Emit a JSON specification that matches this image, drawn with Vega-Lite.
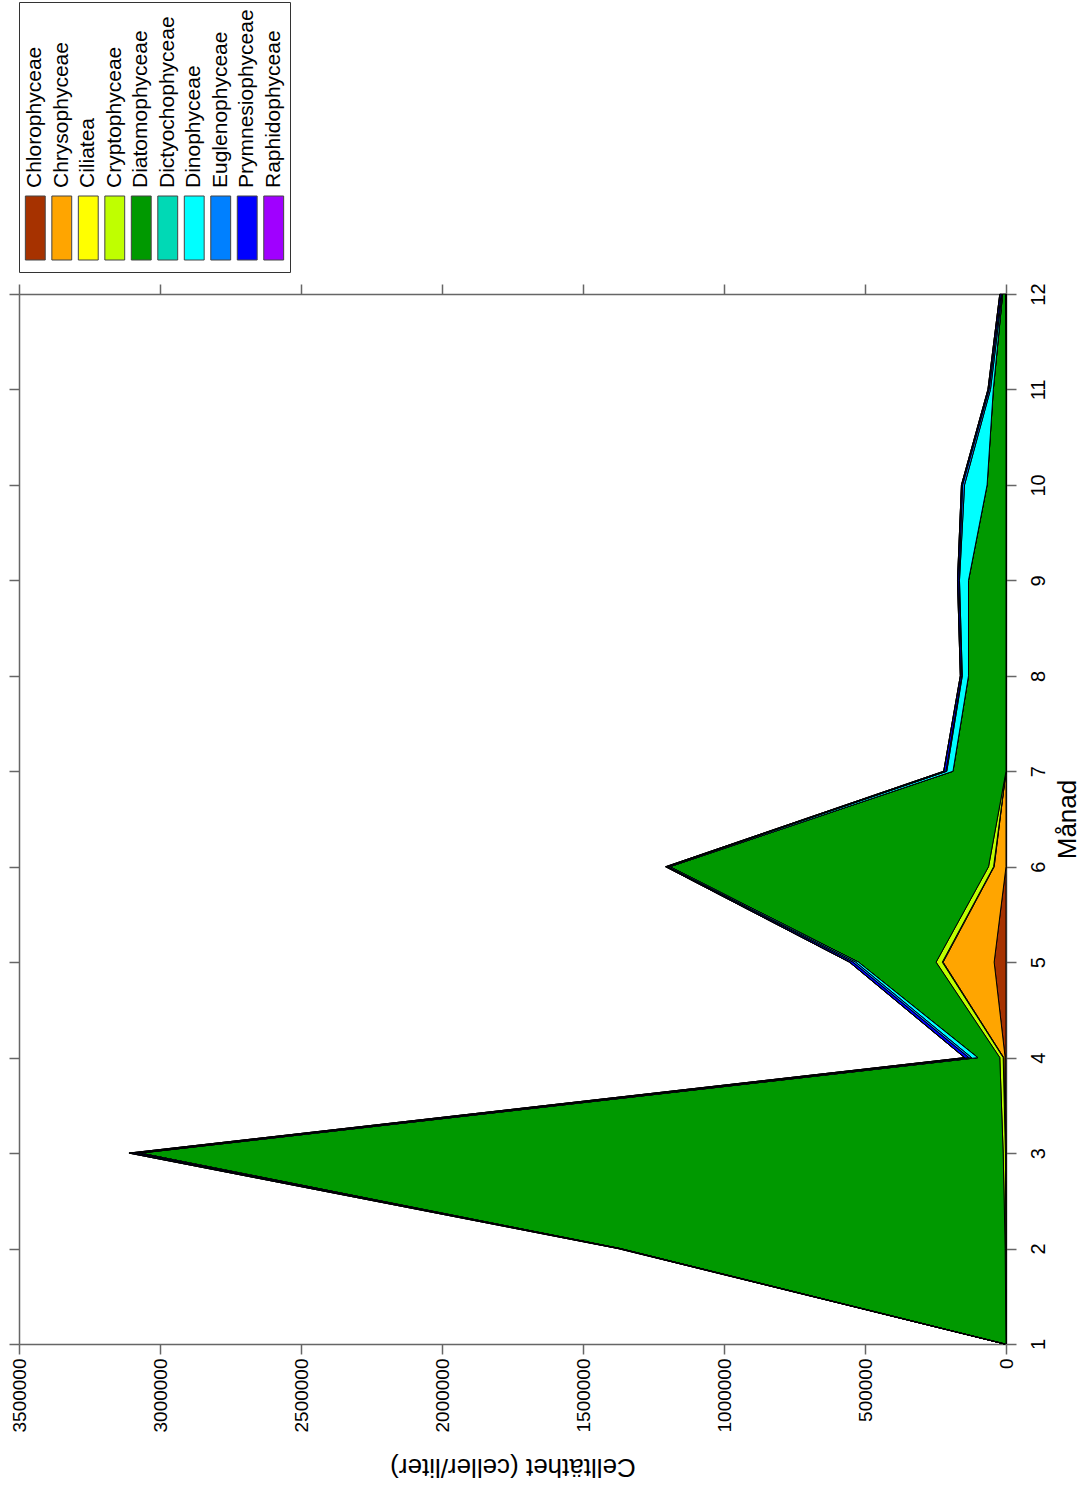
{
  "$schema": "https://vega.github.io/schema/vega-lite/v6.json",
  "padding": {"left": 8, "top": 1, "right": 5, "bottom": 5},
  "background": "white",
  "spacing": 9,
  "config": {
    "font": "Liberation Sans",
    "axis": {"domainColor": "#666", "domainWidth": 1.5, "tickColor": "#666", "tickWidth": 1.5, "labelColor": "#000", "titleColor": "#000", "titleFontWeight": "normal", "grid": false}
  },
  "datasets": {
    "cells": [
      {"m":1,"c":"Chlorophyceae","v":0},{"m":1,"c":"Chrysophyceae","v":0},{"m":1,"c":"Ciliatea","v":0},{"m":1,"c":"Cryptophyceae","v":0},{"m":1,"c":"Diatomophyceae","v":4000},{"m":1,"c":"Dictyochophyceae","v":0},{"m":1,"c":"Dinophyceae","v":0},{"m":1,"c":"Euglenophyceae","v":0},{"m":1,"c":"Prymnesiophyceae","v":1000},{"m":1,"c":"Raphidophyceae","v":0},
      {"m":2,"c":"Chlorophyceae","v":0},{"m":2,"c":"Chrysophyceae","v":1000},{"m":2,"c":"Ciliatea","v":0},{"m":2,"c":"Cryptophyceae","v":2000},{"m":2,"c":"Diatomophyceae","v":1365000},{"m":2,"c":"Dictyochophyceae","v":0},{"m":2,"c":"Dinophyceae","v":2000},{"m":2,"c":"Euglenophyceae","v":1000},{"m":2,"c":"Prymnesiophyceae","v":5000},{"m":2,"c":"Raphidophyceae","v":0},
      {"m":3,"c":"Chlorophyceae","v":0},{"m":3,"c":"Chrysophyceae","v":2000},{"m":3,"c":"Ciliatea","v":0},{"m":3,"c":"Cryptophyceae","v":8000},{"m":3,"c":"Diatomophyceae","v":3060000},{"m":3,"c":"Dictyochophyceae","v":0},{"m":3,"c":"Dinophyceae","v":12000},{"m":3,"c":"Euglenophyceae","v":8000},{"m":3,"c":"Prymnesiophyceae","v":20000},{"m":3,"c":"Raphidophyceae","v":0},
      {"m":4,"c":"Chlorophyceae","v":3000},{"m":4,"c":"Chrysophyceae","v":5000},{"m":4,"c":"Ciliatea","v":2000},{"m":4,"c":"Cryptophyceae","v":12000},{"m":4,"c":"Diatomophyceae","v":78000},{"m":4,"c":"Dictyochophyceae","v":0},{"m":4,"c":"Dinophyceae","v":22000},{"m":4,"c":"Euglenophyceae","v":10000},{"m":4,"c":"Prymnesiophyceae","v":15000},{"m":4,"c":"Raphidophyceae","v":0},
      {"m":5,"c":"Chlorophyceae","v":42000},{"m":5,"c":"Chrysophyceae","v":181000},{"m":5,"c":"Ciliatea","v":3000},{"m":5,"c":"Cryptophyceae","v":22000},{"m":5,"c":"Diatomophyceae","v":275000},{"m":5,"c":"Dictyochophyceae","v":0},{"m":5,"c":"Dinophyceae","v":10000},{"m":5,"c":"Euglenophyceae","v":10000},{"m":5,"c":"Prymnesiophyceae","v":12000},{"m":5,"c":"Raphidophyceae","v":0},
      {"m":6,"c":"Chlorophyceae","v":0},{"m":6,"c":"Chrysophyceae","v":42000},{"m":6,"c":"Ciliatea","v":2000},{"m":6,"c":"Cryptophyceae","v":18000},{"m":6,"c":"Diatomophyceae","v":1130000},{"m":6,"c":"Dictyochophyceae","v":0},{"m":6,"c":"Dinophyceae","v":7000},{"m":6,"c":"Euglenophyceae","v":3000},{"m":6,"c":"Prymnesiophyceae","v":5000},{"m":6,"c":"Raphidophyceae","v":0},
      {"m":7,"c":"Chlorophyceae","v":0},{"m":7,"c":"Chrysophyceae","v":0},{"m":7,"c":"Ciliatea","v":0},{"m":7,"c":"Cryptophyceae","v":0},{"m":7,"c":"Diatomophyceae","v":188000},{"m":7,"c":"Dictyochophyceae","v":0},{"m":7,"c":"Dinophyceae","v":22000},{"m":7,"c":"Euglenophyceae","v":3000},{"m":7,"c":"Prymnesiophyceae","v":8000},{"m":7,"c":"Raphidophyceae","v":0},
      {"m":8,"c":"Chlorophyceae","v":0},{"m":8,"c":"Chrysophyceae","v":0},{"m":8,"c":"Ciliatea","v":0},{"m":8,"c":"Cryptophyceae","v":0},{"m":8,"c":"Diatomophyceae","v":133000},{"m":8,"c":"Dictyochophyceae","v":0},{"m":8,"c":"Dinophyceae","v":22000},{"m":8,"c":"Euglenophyceae","v":2000},{"m":8,"c":"Prymnesiophyceae","v":5000},{"m":8,"c":"Raphidophyceae","v":0},
      {"m":9,"c":"Chlorophyceae","v":0},{"m":9,"c":"Chrysophyceae","v":0},{"m":9,"c":"Ciliatea","v":0},{"m":9,"c":"Cryptophyceae","v":0},{"m":9,"c":"Diatomophyceae","v":133000},{"m":9,"c":"Dictyochophyceae","v":0},{"m":9,"c":"Dinophyceae","v":32000},{"m":9,"c":"Euglenophyceae","v":2000},{"m":9,"c":"Prymnesiophyceae","v":5000},{"m":9,"c":"Raphidophyceae","v":0},
      {"m":10,"c":"Chlorophyceae","v":0},{"m":10,"c":"Chrysophyceae","v":0},{"m":10,"c":"Ciliatea","v":0},{"m":10,"c":"Cryptophyceae","v":0},{"m":10,"c":"Diatomophyceae","v":67000},{"m":10,"c":"Dictyochophyceae","v":0},{"m":10,"c":"Dinophyceae","v":80000},{"m":10,"c":"Euglenophyceae","v":7000},{"m":10,"c":"Prymnesiophyceae","v":4000},{"m":10,"c":"Raphidophyceae","v":0},
      {"m":11,"c":"Chlorophyceae","v":0},{"m":11,"c":"Chrysophyceae","v":0},{"m":11,"c":"Ciliatea","v":0},{"m":11,"c":"Cryptophyceae","v":0},{"m":11,"c":"Diatomophyceae","v":45000},{"m":11,"c":"Dictyochophyceae","v":0},{"m":11,"c":"Dinophyceae","v":10000},{"m":11,"c":"Euglenophyceae","v":5000},{"m":11,"c":"Prymnesiophyceae","v":4000},{"m":11,"c":"Raphidophyceae","v":0},
      {"m":12,"c":"Chlorophyceae","v":0},{"m":12,"c":"Chrysophyceae","v":0},{"m":12,"c":"Ciliatea","v":0},{"m":12,"c":"Cryptophyceae","v":2000},{"m":12,"c":"Diatomophyceae","v":10000},{"m":12,"c":"Dictyochophyceae","v":0},{"m":12,"c":"Dinophyceae","v":2000},{"m":12,"c":"Euglenophyceae","v":3000},{"m":12,"c":"Prymnesiophyceae","v":5000},{"m":12,"c":"Raphidophyceae","v":0}
    ]
  },
  "vconcat": [
    {
      "width": 271,
      "height": 270,
      "view": {"stroke": "#333", "strokeWidth": 1},
      "data": {"name": "cells"},
      "transform": [{"aggregate": [{"op": "sum", "field": "v", "as": "tot"}], "groupby": ["c"]}],
      "layer": [
        {
          "mark": {"type": "rect", "stroke": "#444", "strokeWidth": 1},
          "encoding": {
            "x": {"field": "c", "type": "nominal", "scale": {"domain": ["Chlorophyceae","Chrysophyceae","Ciliatea","Cryptophyceae","Diatomophyceae","Dictyochophyceae","Dinophyceae","Euglenophyceae","Prymnesiophyceae","Raphidophyceae"], "paddingInner": 0.25, "paddingOuter": 0.24}, "axis": null},
            "y": {"datum": 12, "type": "quantitative", "scale": {"domain": [0, 270], "nice": false}, "axis": null},
            "y2": {"datum": 76},
            "color": {"field": "c", "type": "nominal", "scale": {"domain": ["Chlorophyceae","Chrysophyceae","Ciliatea","Cryptophyceae","Diatomophyceae","Dictyochophyceae","Dinophyceae","Euglenophyceae","Prymnesiophyceae","Raphidophyceae"], "range": ["#A63200","#FFA500","#FFFF00","#BFFF00","#009900","#00D9B5","#00FFFF","#0080FF","#0000FF","#A000FF"]}, "legend": null}
          }
        },
        {
          "mark": {"type": "text", "angle": 270, "align": "left", "baseline": "middle", "fontSize": 21, "color": "#000"},
          "encoding": {
            "x": {"field": "c", "type": "nominal"},
            "y": {"datum": 84, "type": "quantitative"},
            "text": {"field": "c"}
          }
        }
      ]
    },
    {
      "width": 987,
      "height": 1050,
      "view": {"stroke": null},
      "data": {"name": "cells"},
      "layer": [
        {
          "mark": {"type": "area", "orient": "horizontal", "stroke": "#000", "strokeWidth": 1},
          "encoding": {
            "y": {"field": "m", "type": "quantitative", "scale": {"domain": [1, 12], "nice": false, "zero": false},
              "axis": {"orient": "right", "values": [1,2,3,4,5,6,7,8,9,10,11,12], "labelAngle": 270, "labelAlign": "center", "labelBaseline": "top", "labelFontSize": 20, "labelPadding": 12, "tickSize": 10, "title": "Månad", "titleAngle": 270, "titleBaseline": "top", "titleFontSize": 26, "titlePadding": 6}},
            "x": {"field": "v", "type": "quantitative", "stack": "zero", "scale": {"domain": [0, 3500000], "reverse": true, "nice": false},
              "axis": {"orient": "bottom", "values": [0,500000,1000000,1500000,2000000,2500000,3000000,3500000], "format": "d", "labelAngle": 270, "labelAlign": "right", "labelBaseline": "middle", "labelFontSize": 19, "labelPadding": 4, "tickSize": 10, "title": "Celltäthet (celler/liter)", "titleAngle": 180, "titleBaseline": "bottom", "titleFontSize": 26, "titlePadding": 22}},
            "color": {"field": "c", "type": "nominal", "scale": {"domain": ["Chlorophyceae","Chrysophyceae","Ciliatea","Cryptophyceae","Diatomophyceae","Dictyochophyceae","Dinophyceae","Euglenophyceae","Prymnesiophyceae","Raphidophyceae"], "range": ["#A63200","#FFA500","#FFFF00","#BFFF00","#009900","#00D9B5","#00FFFF","#0080FF","#0000FF","#A000FF"]}, "legend": null}
          }
        },
        {
          "mark": {"type": "point", "opacity": 0},
          "encoding": {
            "y": {"field": "m", "type": "quantitative", "axis": {"orient": "left", "values": [1,2,3,4,5,6,7,8,9,10,11,12], "labels": false, "tickSize": 10, "title": null}},
            "x": {"field": "v", "type": "quantitative", "axis": {"orient": "top", "values": [0,500000,1000000,1500000,2000000,2500000,3000000,3500000], "labels": false, "tickSize": 10, "title": null}}
          }
        }
      ],
      "resolve": {"axis": {"x": "independent", "y": "independent"}}
    }
  ]
}
